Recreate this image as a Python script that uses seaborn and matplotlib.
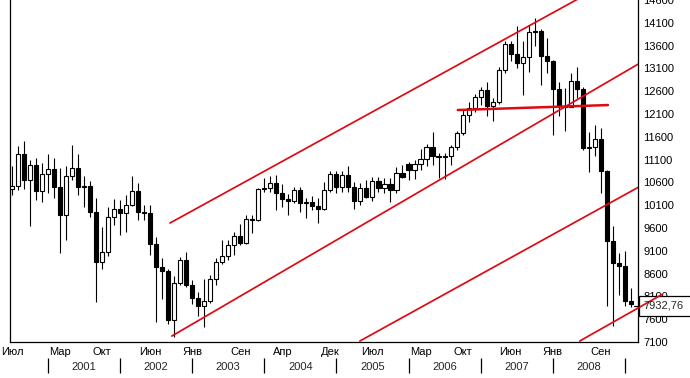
import matplotlib
matplotlib.use("Agg")
import matplotlib.pyplot as plt
from matplotlib.patches import Rectangle
import seaborn as sns

# monthly candles, Jul 2000 .. Feb 2009
opens = [10448, 10522, 11215, 10651, 10971, 10414,
         10787, 10887, 10495, 9879, 10735, 10912, 10502, 10523, 9950, 8848, 9075, 9852,
         10022, 9920, 10106, 10404, 9946, 9925, 9243, 8737, 8664, 7592, 8397, 8896,
         8342, 8054, 7891, 7992, 8480, 8850, 8985, 9234, 9416, 9275, 9801, 9782,
         10454, 10488, 10584, 10358, 10226, 10188, 10435, 10140, 10174, 10080, 10027, 10428,
         10783, 10490, 10766, 10504, 10193, 10467, 10275, 10641, 10482, 10569, 10440, 10806,
         11010, 10865, 10993, 11109, 11367, 11168, 11150, 11186, 11381, 11679, 12081, 12222,
         12463, 12622, 12269, 12354, 13063, 13628, 13409, 13212, 13358, 13896, 13930, 13372,
         13265, 12650, 12266, 12263, 12820, 12638, 11350, 11378, 11544, 10851, 9325, 8829,
         8776, 8001]
highs = [10950, 11400, 11500, 11100, 11140, 11035,
         11220, 11140, 10920, 10970, 11420, 11230, 10750, 10640, 10250, 9620, 10050, 10230,
         10210, 10320, 10730, 10580, 10100, 10100, 9400, 8950, 8700, 8540, 8970, 9080,
         8470, 8190, 8490, 8580, 8950, 9340, 9340, 9510, 9690, 9880, 9880, 10480,
         10690, 10750, 10760, 10570, 10350, 10500, 10500, 10260, 10300, 10250, 10600, 10860,
         10860, 10860, 10970, 10600, 10580, 10650, 10720, 10720, 10700, 10700, 10930, 10990,
         11050, 11100, 11340, 11450, 11710, 11250, 11250, 11430, 11720, 12180, 12360, 12540,
         12700, 12800, 12450, 13140, 13690, 13700, 14040, 13700, 14060, 14200, 13960, 13760,
         13280, 12800, 12660, 12990, 13140, 12700, 11700, 11860, 11790, 10880, 9650, 9050,
         9090, 8280]
lows = [10330, 10430, 10450, 9654, 10210, 10165,
        10360, 10250, 9060, 9340, 10660, 10320, 10060, 9840, 7970, 8690, 8990, 9660,
        9450, 9510, 10090, 9770, 9770, 9010, 7530, 8040, 7490, 7200, 8360, 8300,
        7930, 7670, 7420, 7960, 8360, 8820, 8900, 9010, 9230, 9250, 9500, 9750,
        10380, 10400, 10000, 10050, 9880, 10150, 9950, 9810, 10000, 9710, 10000, 10400,
        10370, 10400, 10380, 10010, 10100, 10250, 10200, 10380, 10360, 10160, 10360, 10700,
        10660, 10680, 10880, 10970, 10990, 10700, 10680, 10980, 11300, 11640, 11930, 12150,
        12300, 12050, 11940, 12320, 13000, 13260, 13100, 12520, 13030, 13600, 12740, 12990,
        11630, 12060, 11730, 12250, 12440, 11300, 10830, 11180, 10370, 7880, 7450, 8120,
        7900, 7860]
closes = [10522, 11215, 10651, 10971, 10414, 10787,
          10887, 10495, 9879, 10735, 10912, 10502, 10523, 9950, 8848, 9075, 9852, 10022,
          9920, 10106, 10404, 9946, 9925, 9243, 8737, 8664, 7592, 8397, 8896, 8342,
          8054, 7891, 7992, 8480, 8850, 8985, 9234, 9416, 9275, 9801, 9782, 10454,
          10488, 10584, 10358, 10226, 10188, 10435, 10140, 10174, 10080, 10027, 10428, 10783,
          10490, 10766, 10504, 10193, 10467, 10275, 10641, 10482, 10569, 10440, 10806, 10718,
          10865, 10993, 11109, 11367, 11168, 11150, 11186, 11381, 11679, 12081, 12222, 12463,
          12622, 12269, 12354, 13063, 13628, 13409, 13212, 13358, 13896, 13930, 13372, 13265,
          12650, 12266, 12263, 12820, 12638, 11350, 11378, 11544, 10851, 9325, 8829, 8776,
          8001, 7933]

month_pos = [0, 8, 15, 23, 30, 38, 45, 53, 60, 68, 75, 83, 90, 98]
month_lbl = ["Июл", "Мар", "Окт", "Июн", "Янв", "Сен", "Апр",
             "Дек", "Июл", "Мар", "Окт", "Июн", "Янв", "Сен"]
year_sep = [6, 18, 30, 42, 54, 66, 78, 90, 102]
years = ["2001", "2002", "2003", "2004", "2005", "2006", "2007", "2008"]

# red trend lines: (x0, y0, x1, y1) in candle index / index points
line_x0 = [26.3, 26.6, 57.9, 74.2]
line_y0 = [9709, 7230, 7121, 12187]
line_x1 = [95.0, 106.0, 106.0, 99.2]
line_y1 = [14680, 13330, 10620, 12296]
low_line = [94.5, 7121, 108.2, 8143]

last_price = "7932,76"

sns.set_style("white")
plt.rcParams["font.family"] = ["Liberation Sans", "DejaVu Sans"]

fig = plt.figure(figsize=(6.9, 3.78), dpi=100)
ax = fig.add_axes([10 / 690, 36 / 378, 628 / 690, 342 / 378])

idx = list(range(len(closes)))
ax.vlines(idx, lows, highs, color="black", linewidth=0.8, zorder=2)
bottoms = [min(o, c) for o, c in zip(opens, closes)]
heights = [max(abs(c - o), 8) for o, c in zip(opens, closes)]
colors = ["white" if c >= o else "black" for o, c in zip(opens, closes)]
ax.bar(idx, heights, bottom=bottoms, width=0.68, color=colors,
       edgecolor="black", linewidth=0.8, zorder=3)

red = "#dc0a14"
for x0, y0, x1, y1 in zip(line_x0, line_y0, line_x1, line_y1):
    lw = 1.8 if abs(y1 - y0) < 300 else 1.25
    ax.plot([x0, x1], [y0, y1], color=red, linewidth=lw, zorder=4)
ax.plot(low_line[0::2], low_line[1::2], color=red, linewidth=1.25,
        zorder=6, clip_on=False)

ax.set_xlim(-0.33, 104.2)
ax.set_ylim(7121, 14557)

ax.yaxis.tick_right()
ax.set_yticks(range(7100, 14700, 500))
ax.tick_params(axis="y", length=0, pad=4, labelsize=8, colors="black")
ax.set_xticks(month_pos)
ax.set_xticklabels(month_lbl)
ax.tick_params(axis="x", length=0, pad=3.5, labelsize=8, colors="black")

for s in ["left", "bottom", "right"]:
    ax.spines[s].set_color("black")
    ax.spines[s].set_linewidth(0.9)
ax.spines["top"].set_visible(False)

trans = ax.get_xaxis_transform()
ax.vlines(year_sep, -0.048, -0.09, transform=trans, color="black",
          linewidth=0.9, clip_on=False)
for i, y in enumerate(years):
    ax.text(year_sep[i] + 6, -0.074, y, transform=trans, ha="center",
            va="center", fontsize=8)

# last price box on the right axis
box = Rectangle((639 / 690, 1 - 316 / 378), 60 / 690, 20 / 378,
                transform=fig.transFigure, facecolor="white",
                edgecolor="black", linewidth=0.9, clip_on=False, zorder=5)
ax.add_patch(box)
ax.text(643 / 690, 1 - 306 / 378, last_price, transform=fig.transFigure,
        ha="left", va="center", fontsize=8, zorder=7)
ax.plot([634 / 690, 639 / 690], [1 - 306 / 378, 1 - 306 / 378],
        transform=fig.transFigure, color="black", linewidth=0.9,
        clip_on=False, zorder=7)

fig.savefig("out.png", dpi=100)
